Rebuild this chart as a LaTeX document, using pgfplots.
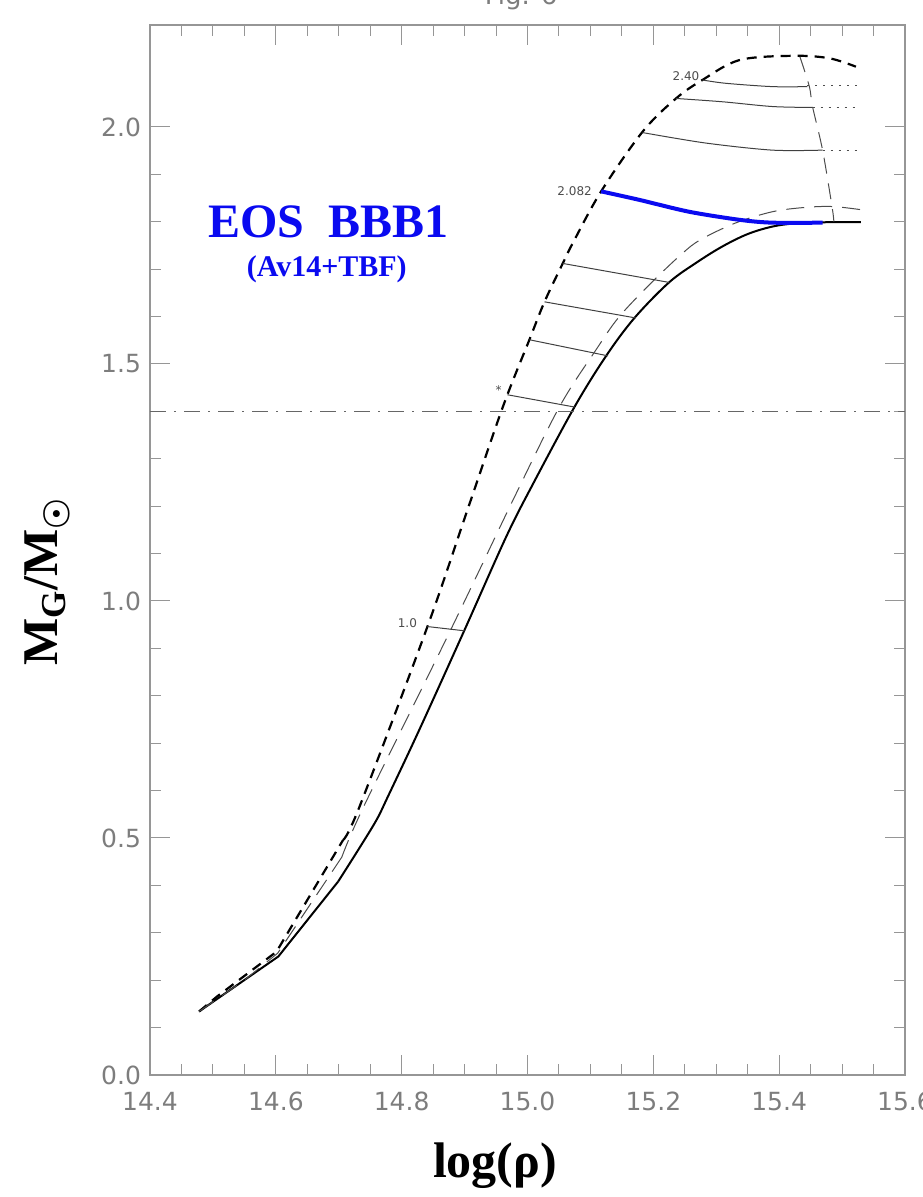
\documentclass[border=0pt]{standalone}
\usepackage{pgfplots}
\pgfplotsset{compat=1.18}
\usepackage{fontspec}
\setmainfont{Liberation Serif}
\newfontfamily\tickfont{DejaVu Sans}

\definecolor{axisgray}{RGB}{150,150,150}
\definecolor{labgray}{RGB}{125,125,125}
\definecolor{eosblue}{RGB}{10,10,240}

\begin{document}
\begin{tikzpicture}
% page frame
\path[use as bounding box] (-75pt,-61pt) rectangle (386pt,537.5pt);
\begin{axis}[
  at={(0,0)}, anchor=south west,
  scale only axis, width=377.5pt, height=525pt,
  xmin=14.4, xmax=15.6, ymin=0, ymax=2.215,
  xtick={14.4,14.6,...,15.6}, minor x tick num=3,
  ytick={0,0.5,...,2.0}, minor y tick num=4,
  major tick length=10pt, minor tick length=5.5pt,
  tick style={axisgray, line width=0.5pt},
  axis line style={axisgray, line width=0.7pt},
  tick align=inside,
  /pgf/number format/assume math mode=true,
  /pgf/number format/.cd, fixed, fixed zerofill, precision=1, /pgfplots/.cd,
  ticklabel style={font=\tickfont\fontsize{12.5}{14}\selectfont, text=labgray},
  xticklabel style={yshift=-5pt},
  yticklabel style={xshift=-1pt},
  xlabel={\bfseries\fontsize{25}{28}\selectfont log(ρ)},
  xlabel style={at={(axis description cs:0.457,-0.086)}, anchor=center},
  ylabel={\bfseries\fontsize{25}{28}\selectfont M\textsubscript{G}/M\textsubscript{\boldmath$\odot$}},
  ylabel style={at={(axis description cs:-0.136,0.47)}, anchor=center, rotate=0},
  clip=false,
]
% static sequence: coarse low-density part, then smooth
\addplot[black, line width=1pt] coordinates {
(14.478,0.134) (14.604,0.250) (14.699,0.408)};
\addplot[black, line width=1pt, smooth, tension=0.55] coordinates {
(14.699,0.408) (14.731,0.475) (14.760,0.538)
(14.778,0.587) (14.829,0.731) (14.900,0.939) (14.966,1.135) (15.008,1.245)
(15.075,1.410) (15.125,1.517) (15.170,1.597) (15.225,1.672) (15.270,1.715)
(15.310,1.748) (15.350,1.774) (15.390,1.790) (15.430,1.797) (15.480,1.799)
(15.530,1.799)};
% mass-shedding sequence
\addplot[black, line width=1.1pt, dash pattern=on 5pt off 3.5pt] coordinates {
(14.478,0.134) (14.506,0.165) (14.601,0.260) (14.707,0.496)};
\addplot[black, line width=1.1pt, dash pattern=on 5pt off 3.5pt, smooth, tension=0.55] coordinates {
(14.707,0.496) (14.733,0.566)
(14.841,0.946) (14.903,1.186) (14.961,1.410) (15.003,1.551)
(15.027,1.631) (15.056,1.712) (15.072,1.755) (15.117,1.864) (15.183,1.990)
(15.236,2.060) (15.278,2.099) (15.337,2.141) (15.421,2.150) (15.479,2.145)
(15.522,2.127)};
% intermediate sequence
\addplot[black!70, line width=0.5pt, dash pattern=on 9pt off 5pt] coordinates {
(14.478,0.134) (14.550,0.200) (14.603,0.257) (14.705,0.460)};
\addplot[black!70, line width=0.5pt, dash pattern=on 9pt off 5pt, smooth, tension=0.55] coordinates {
(14.705,0.460) (14.741,0.570)
(14.879,0.942) (14.977,1.213) (15.051,1.410) (15.109,1.530) (15.146,1.600)
(15.199,1.674) (15.246,1.733) (15.275,1.762) (15.330,1.797) (15.389,1.821)
(15.440,1.830) (15.485,1.832) (15.532,1.825)};
% instability line
\addplot[black!70, line width=0.5pt, dash pattern=on 8pt off 5pt, smooth] coordinates {
(15.433,2.148) (15.448,2.085) (15.453,2.043) (15.469,1.951) (15.484,1.832)
(15.487,1.800)};
% constant baryon mass tracks
\addplot[black!75, line width=0.5pt, smooth] coordinates {
(15.278,2.099) (15.315,2.092) (15.389,2.085) (15.445,2.085)};
\addplot[black!75, line width=0.5pt, smooth] coordinates {
(15.236,2.060) (15.310,2.053) (15.389,2.043) (15.453,2.041)};
\addplot[black!75, line width=0.5pt, smooth] coordinates {
(15.183,1.988) (15.283,1.966) (15.389,1.951) (15.469,1.951)};
\addplot[black!70, line width=0.6pt, dash pattern=on 1pt off 3pt] coordinates {(15.445,2.087) (15.524,2.087)};
\addplot[black!70, line width=0.6pt, dash pattern=on 1pt off 3pt] coordinates {(15.453,2.041) (15.524,2.041)};
\addplot[black!70, line width=0.6pt, dash pattern=on 1pt off 3pt] coordinates {(15.469,1.951) (15.524,1.951)};
\addplot[black!75, line width=0.5pt] coordinates {(15.056,1.712) (15.225,1.672)};
\addplot[black!75, line width=0.5pt] coordinates {(15.027,1.631) (15.172,1.597)};
\addplot[black!75, line width=0.5pt] coordinates {(15.003,1.551) (15.128,1.517)};
\addplot[black!75, line width=0.5pt] coordinates {(14.968,1.435) (15.075,1.409)};
\addplot[black!75, line width=0.5pt] coordinates {(14.841,0.946) (14.900,0.937)};
% maximum-mass track
\addplot[eosblue, line width=2pt, smooth] coordinates {
(15.117,1.864) (15.178,1.846) (15.257,1.821) (15.337,1.804) (15.389,1.798) (15.469,1.798)};
% canonical mass
\addplot[black!60, line width=0.5pt, dash pattern=on 8pt off 4pt on 1pt off 4pt] coordinates {(14.4,1.4) (15.6,1.4)};

% track labels
\node[anchor=east, font=\tickfont\fontsize{6}{7}\selectfont, text=black!70, inner sep=1pt] at (axis cs:15.277,2.108) {2.40};
\node[anchor=east, font=\tickfont\fontsize{6}{7}\selectfont, text=black!70, inner sep=1pt] at (axis cs:15.106,1.864) {2.082};
\node[anchor=east, font=\tickfont\fontsize{6}{7}\selectfont, text=black!70, inner sep=1pt] at (axis cs:14.828,0.954) {1.0};
\node[font=\tickfont\fontsize{6}{7}\selectfont, text=black!70, inner sep=0pt] at (axis cs:14.954,1.445) {*};

\node[font=\bfseries\fontsize{24}{26}\selectfont, text=eosblue] at (axis cs:14.683,1.80) {EOS\ \ BBB1};
\node[font=\bfseries\fontsize{15}{17}\selectfont, text=eosblue] at (axis cs:14.681,1.70) {(Av14+TBF)};

\node[anchor=base, font=\tickfont\fontsize{13}{14}\selectfont, text=labgray] at (axis cs:14.99,2.258) {Fig. 6};
\end{axis}
\end{tikzpicture}
\end{document}
